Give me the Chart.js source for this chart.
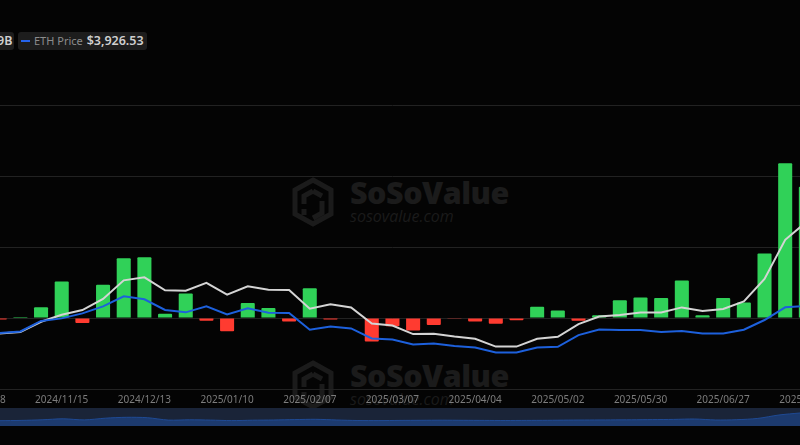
<!DOCTYPE html>
<html>
<head>
<meta charset="utf-8">
<script src="https://cdn.jsdelivr.net/npm/chart.js@4"></script>
<style>
    html, body { margin: 0; padding: 0; background: #040404; }
    body { width: 800px; height: 445px; overflow: hidden; position: relative; font-family: "Noto Sans", "Open Sans", sans-serif; }
    .wrap-main { position: absolute; left: -80px; top: 85px; width: 960px; height: 318px; }
    .wrap-mini { position: absolute; left: 0; top: 408px; width: 800px; height: 18px; background: #1a2438; }
    .chip { position: absolute; top: 32px; height: 18px; background: #1d1d1d; border-radius: 3px; color: #8c8c8c; font-size: 11px; line-height: 18px; white-space: nowrap; }
    .chip b { color: #cfcfcf; font-size: 12.5px; font-weight: 600; margin-left: 1px; }
    .dash { display: inline-block; width: 9px; height: 2px; background: #2563eb; margin: 0 4px 0 3px; vertical-align: 3px; }
    .mark { position: absolute; left: 292px; color: #1b1b1b; }
    .mark svg { position: absolute; left: 0; top: 0; }
    .mark .big { position: absolute; left: 58px; top: -3px; font: 800 30.5px/36px "Open Sans", sans-serif; letter-spacing: -0.5px; white-space: nowrap; }
    .mark .small { position: absolute; left: 58px; top: 29px; font: italic 400 16px/20px "Open Sans", sans-serif; white-space: nowrap; }
</style>
</head>
<body>
<div class="mark" style="top:177px"><svg width="42" height="50" viewBox="0 0 42 50" fill="none" stroke="#1b1b1b" stroke-width="5"><path d="M21 3 L39 13 V37 L21 47 L3 37 V13 Z M21 14 L12 19 V27 M21 14 L30 19 M30 24 V36 L21 41 M12 32 V38"/></svg><span class="big">SoSoValue</span><span class="small">sosovalue.com</span></div>
<div class="mark" style="top:360px"><svg width="42" height="50" viewBox="0 0 42 50" fill="none" stroke="#1b1b1b" stroke-width="5"><path d="M21 3 L39 13 V37 L21 47 L3 37 V13 Z M21 14 L12 19 V27 M21 14 L30 19 M30 24 V36 L21 41 M12 32 V38"/></svg><span class="big">SoSoValue</span><span class="small">sosovalue.com</span></div>
<div class="chip" style="left:-3px;width:17px;"><b style="margin:0">9B</b></div>
<div class="chip" style="left:18px;width:129px;"><span class="dash"></span>ETH Price <b>$3,926.53</b></div>
<div class="wrap-main"><canvas id="mainChart"></canvas></div>
<div class="wrap-mini"><canvas id="miniChart"></canvas></div>
<script>
// weekly dates, first one only shows through its clipped tick label
const weeks = [
    "2024/10/18", "2024/10/25", "2024/11/01", "2024/11/08", "2024/11/15", "2024/11/22", "2024/11/29",
    "2024/12/06", "2024/12/13", "2024/12/20", "2024/12/27", "2025/01/03", "2025/01/10", "2025/01/17",
    "2025/01/24", "2025/01/31", "2025/02/07", "2025/02/14", "2025/02/21", "2025/02/28", "2025/03/07",
    "2025/03/14", "2025/03/21", "2025/03/28", "2025/04/04", "2025/04/11", "2025/04/18", "2025/04/25",
    "2025/05/02", "2025/05/09", "2025/05/16", "2025/05/23", "2025/05/30", "2025/06/06", "2025/06/13",
    "2025/06/20", "2025/06/27", "2025/07/04", "2025/07/11", "2025/07/18", "2025/07/25"
];

// net inflow, $B
const netInflow = [
    null, -0.02, 0.015, 0.15, 0.515, -0.07, 0.467, 0.84, 0.855, 0.06, 0.345, -0.04, -0.185, 0.21,
    0.14, -0.05, 0.42, -0.02, 0, -0.33, -0.115, -0.175, -0.10, -0.005, -0.05, -0.08, -0.03, 0.157,
    0.105, -0.038, 0.04, 0.25, 0.287, 0.28, 0.528, 0.04, 0.283, 0.217, 0.907, 2.18, 1.85
];

// total net assets, $B
const netAssets = [
    null, 5.86, 6.01, 7.10, 7.84, 8.34, 9.51, 11.48, 11.80, 10.42, 10.39, 11.21, 9.96, 10.84,
    10.49, 10.46, 8.48, 8.94, 8.62, 6.92, 6.71, 5.80, 5.83, 5.54, 5.30, 4.48, 4.48, 5.30,
    5.51, 6.86, 7.66, 7.81, 8.09, 8.09, 8.62, 8.24, 8.45, 9.25, 11.63, 15.76, 17.60
];

// ETH price, $
const ethPrice = [
    null, 2384, 2452, 2898, 3009, 3223, 3522, 3950, 3822, 3368, 3266, 3522, 3180, 3437,
    3253, 3240, 2525, 2666, 2581, 2153, 2110, 1896, 1939, 1828, 1768, 1554, 1554, 1768,
    1798, 2298, 2538, 2512, 2512, 2427, 2470, 2367, 2367, 2525, 2940, 3480, 3540
];

// overview strip under the chart
const overviewPrice = [
    5.3, 5.6, 6.2, 7.2, 6.1, 7.8, 8.7, 8.3, 5.9, 6.2, 5.9, 5.4, 5.8, 6.0, 6.4, 6.7, 6.0, 5.5, 5.4, 5.6,
    5.7, 5.8, 5.7, 5.6, 5.5, 5.6, 5.7, 5.9, 6.0, 6.1, 6.2, 6.4, 6.6, 7.0, 6.0, 6.3, 7.6, 11, 13
];

const lineOpts = { borderWidth: 2, pointRadius: 0, tension: 0, spanGaps: true };

new Chart(document.getElementById("mainChart"), {
    type: "bar",
    data: {
        labels: weeks,
        datasets: [
            { type: "line", data: netAssets, yAxisID: "assets", borderColor: "#d4d4d4", order: 1, ...lineOpts },
            { type: "line", data: ethPrice, yAxisID: "price", borderColor: "#1d60dc", order: 0, ...lineOpts },
            {
                data: netInflow,
                yAxisID: "y",
                order: 2,
                barPercentage: 0.68,
                categoryPercentage: 1,
                borderRadius: 1,
                backgroundColor: netInflow.map(v => v < 0 ? "#ff3b30" : "#30d158")
            }
        ]
    },
    options: {
        responsive: true,
        maintainAspectRatio: false,
        animation: false,
        layout: { padding: { left: 48.7, right: 63.8, top: 20, bottom: 0 } },
        plugins: { legend: { display: false }, tooltip: { enabled: false } },
        scales: {
            x: {
                grid: { display: false },
                border: { color: "#222" },
                ticks: {
                    color: "#7d7d7d",
                    font: { size: 10, family: "Noto Sans" },
                    maxRotation: 0,
                    autoSkip: false,
                    padding: -3,
                    callback: function (v, i) { return i % 4 === 0 ? this.getLabelForValue(v) : ""; }
                }
            },
            y: {
                min: -1,
                max: 3,
                grid: { color: "#222", drawTicks: false },
                border: { display: false },
                ticks: { display: false, stepSize: 1 }
            },
            assets: { display: false, min: 0, max: 30 },
            price: { display: false, min: 0, max: 12100 }
        }
    }
});

new Chart(document.getElementById("miniChart"), {
    type: "line",
    data: {
        labels: overviewPrice.map((v, i) => i),
        datasets: [{
            data: overviewPrice,
            borderColor: "#1f4a94",
            backgroundColor: "#1c3a6e",
            borderWidth: 1,
            pointRadius: 0,
            fill: "start",
            tension: 0.3
        }]
    },
    options: {
        responsive: true,
        maintainAspectRatio: false,
        animation: false,
        plugins: { legend: { display: false }, tooltip: { enabled: false } },
        scales: {
            x: { display: false, offset: false },
            y: { display: false, min: 0, max: 18 }
        }
    }
});
</script>
</body>
</html>
